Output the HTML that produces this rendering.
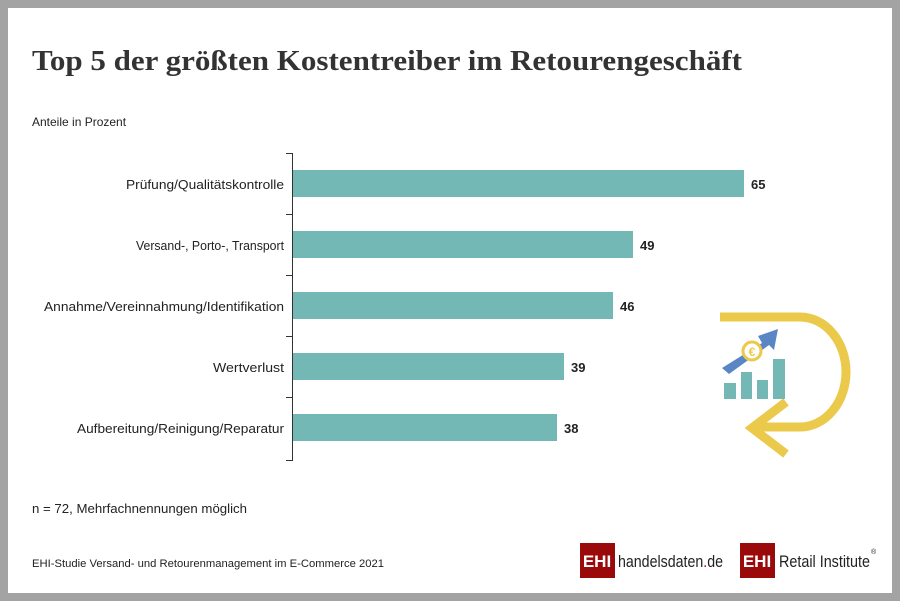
<!DOCTYPE html>
<html><head><meta charset="utf-8"><style>
body{margin:0;width:900px;height:601px;background:#a3a3a3;position:relative;font-family:"Liberation Sans",sans-serif;overflow:hidden}
#w{position:absolute;left:8px;top:8px;width:884px;height:585px;background:#fff}
</style></head><body><div id="w"></div>
<svg width="900" height="601" style="position:absolute;left:0;top:0">
<text x="32" y="70" font-family="Liberation Serif,serif" font-weight="bold" font-size="28" fill="#333" textLength="710" lengthAdjust="spacingAndGlyphs">Top 5 der größten Kostentreiber im Retourengeschäft</text>
<text x="32" y="126" font-size="12" fill="#222">Anteile in Prozent</text>
<g fill="#74b8b6">
<rect x="293" y="170" width="451" height="27"/>
<rect x="293" y="231" width="340" height="27"/>
<rect x="293" y="292" width="320" height="27"/>
<rect x="293" y="353" width="271" height="27"/>
<rect x="293" y="414" width="264" height="27"/>
</g>
<g stroke="#333" stroke-width="1" fill="none">
<path d="M292.5 153V461M286 153.5H292M286 214.5H292M286 275.5H292M286 336.5H292M286 397.5H292M286 460.5H292"/>
</g>
<g font-size="13" fill="#222" text-anchor="end">
<text x="284" y="189" textLength="158" lengthAdjust="spacingAndGlyphs">Prüfung/Qualitätskontrolle</text>
<text x="284" y="250" textLength="148" lengthAdjust="spacingAndGlyphs">Versand-, Porto-, Transport</text>
<text x="284" y="311" textLength="240" lengthAdjust="spacingAndGlyphs">Annahme/Vereinnahmung/Identifikation</text>
<text x="284" y="372" textLength="71" lengthAdjust="spacingAndGlyphs">Wertverlust</text>
<text x="284" y="433" textLength="207" lengthAdjust="spacingAndGlyphs">Aufbereitung/Reinigung/Reparatur</text>
</g>
<g font-size="13" font-weight="bold" fill="#222">
<text x="751" y="189">65</text><text x="640" y="250">49</text><text x="620" y="311">46</text><text x="571" y="372">39</text><text x="564" y="433">38</text>
</g>
<text x="32" y="513" font-size="13" fill="#222" textLength="215" lengthAdjust="spacingAndGlyphs">n = 72, Mehrfachnennungen möglich</text>
<text x="32" y="567" font-size="11" fill="#222" textLength="352" lengthAdjust="spacingAndGlyphs">EHI-Studie Versand- und Retourenmanagement im E-Commerce 2021</text>
<g stroke="#ebc94a" stroke-width="9" fill="none">
<path d="M720 317H800A46 55 0 0 1 800 427H752"/>
<path d="M786 402L752 428L786 454"/>
</g>
<g fill="#74b8b6">
<rect x="724" y="383" width="12" height="16"/><rect x="741" y="372" width="11" height="27"/>
<rect x="757" y="380" width="11" height="19"/><rect x="773" y="359" width="12" height="40"/>
</g>
<path d="M722 368L762 343L758 336L778 329L774 350L769 345L729 374Z" fill="#5b86c6"/>
<circle cx="752" cy="351" r="9" fill="#fff" stroke="#ebc94a" stroke-width="3"/>
<text x="752" y="356" font-size="12" font-weight="bold" fill="#ebc94a" text-anchor="middle">€</text>
<rect x="580" y="543" width="35" height="35" fill="#9b0a0a"/>
<text x="597" y="567" font-size="17" font-weight="bold" fill="#fff" text-anchor="middle">EHI</text>
<text x="618" y="567" font-size="17" fill="#222" textLength="105" lengthAdjust="spacingAndGlyphs">handelsdaten<tspan fill="#9b0a0a">.</tspan>de</text>
<rect x="740" y="543" width="35" height="35" fill="#9b0a0a"/>
<text x="757" y="567" font-size="17" font-weight="bold" fill="#fff" text-anchor="middle">EHI</text>
<text x="779" y="567" font-size="17" fill="#222" textLength="91" lengthAdjust="spacingAndGlyphs">Retail Institute</text>
<text x="871" y="554" font-size="7" fill="#222">®</text>
</svg>
</body></html>
